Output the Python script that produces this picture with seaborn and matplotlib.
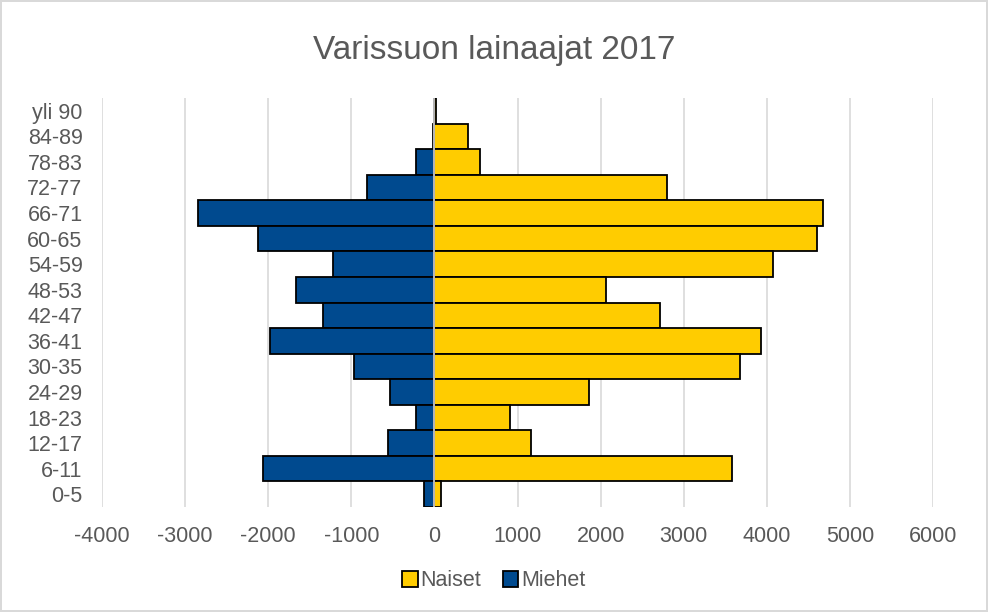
import matplotlib
matplotlib.use("Agg")
import matplotlib.pyplot as plt
import seaborn as sns
import pandas as pd

# age groups, top to bottom as in the chart
ages = ["yli 90", "84-89", "78-83", "72-77", "66-71", "60-65", "54-59", "48-53",
        "42-47", "36-41", "30-35", "24-29", "18-23", "12-17", "6-11", "0-5"]
naiset = [20, 410, 550, 2800, 4680, 4610, 4080, 2070,
          2710, 3930, 3680, 1860, 910, 1160, 3580, 75]
miehet = [-5, -15, -225, -810, -2850, -2125, -1215, -1670,
          -1335, -1980, -965, -530, -225, -560, -2065, -120]
xticks = list(range(-4000, 7000, 1000))

df = pd.DataFrame({
    "ika": ages * 2,
    "maara": naiset + miehet,
    "sukupuoli": ["Naiset"] * len(ages) + ["Miehet"] * len(ages),
})

sns.set_style("white")
plt.rcParams["font.family"] = ["Liberation Sans", "DejaVu Sans"]
grey = "#595959"

fig = plt.figure(figsize=(9.88, 6.12), dpi=100)
fig.patch.set_edgecolor("#d9d9d9")
fig.patch.set_linewidth(1.5)
ax = fig.add_axes([102 / 988, 1 - 507 / 612, 831 / 988, 409 / 612])

sns.barplot(data=df, x="maara", y="ika", hue="sukupuoli", order=ages,
            hue_order=["Naiset", "Miehet"], palette=["#FFCC00", "#004A8F"],
            saturation=1, dodge=False, width=1.0, edgecolor="black",
            linewidth=1.3, orient="h", ax=ax, zorder=2)

ax.set_xlim(-4000, 6000)
ax.set_xticks(xticks)
ax.set_xticklabels([str(t) for t in xticks])
ax.grid(axis="x", color="#d9d9d9", linewidth=1.2, zorder=0)
ax.set_axisbelow(True)
ax.axvline(0, color="#d9d9d9", linewidth=1.2, zorder=5)
for s in ax.spines.values():
    s.set_visible(False)
ax.tick_params(axis="both", length=0, labelsize=15.5, colors=grey)
ax.tick_params(axis="x", pad=14)
ax.tick_params(axis="y", pad=14)
ax.set_xlabel("")
ax.set_ylabel("")

fig.suptitle("Varissuon lainaajat 2017", y=0.942, fontsize=24, color=grey)

ax.legend_.remove()
handles, labels = ax.get_legend_handles_labels()
fig.legend(handles, labels, loc="center", bbox_to_anchor=(0.5, 1 - 581 / 612),
           ncol=2, frameon=False, fontsize=15.5, labelcolor=grey,
           handlelength=0.7, handleheight=0.7, handletextpad=0.15,
           columnspacing=1.0)

fig.savefig("out.png", dpi=100)
